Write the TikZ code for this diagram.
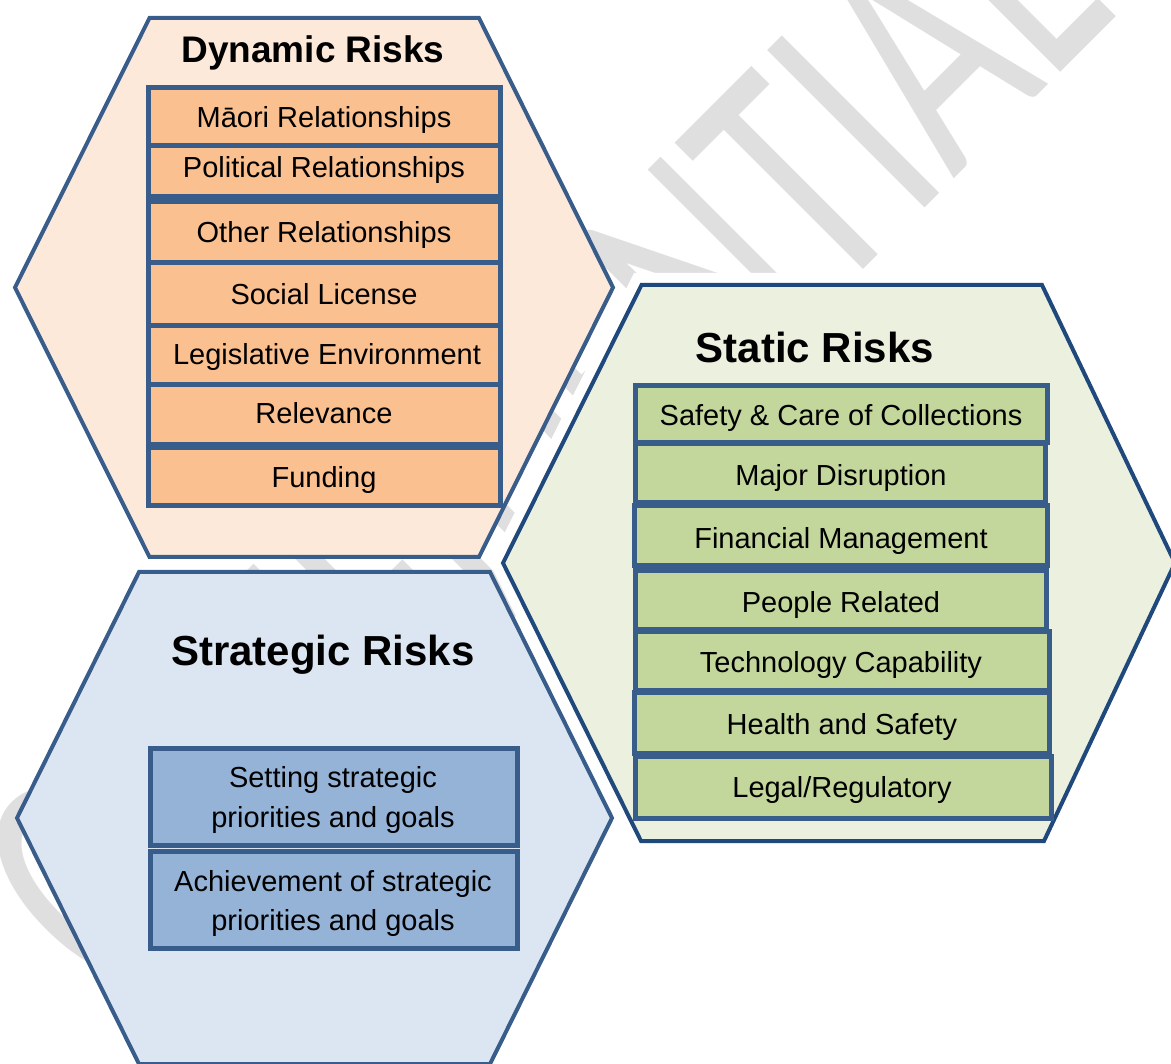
\documentclass[tikz,border=0pt]{standalone}
\usepackage{graphicx}
\usepackage{fontspec}
\setmainfont{Liberation Sans}
\newfontfamily\wmfont{Carlito}
\definecolor{hexline}{HTML}{385D8A}
\definecolor{hexlinegreen}{HTML}{1F497D}
\definecolor{boxline}{HTML}{385D8A}
\definecolor{dynfill}{HTML}{FDE9D9}
\definecolor{dynbox}{HTML}{FAC090}
\definecolor{statfill}{HTML}{EBF1DE}
\definecolor{statbox}{HTML}{C3D69B}
\definecolor{stratfill}{HTML}{DCE6F2}
\definecolor{stratbox}{HTML}{95B3D7}
\definecolor{wmgray}{RGB}{223,223,223}

\begin{document}
\begin{tikzpicture}[x=1pt,y=-1pt,
  hexagon/.style={line width=4pt, line join=miter},
  riskbox/.style={draw=boxline, line width=5pt},
  item/.style={anchor=base, inner sep=0pt, font=\fontsize{29}{29}\selectfont},
  title/.style={anchor=base, inner sep=0pt, font=\bfseries\fontsize{42}{42}\selectfont},
]
\useasboundingbox (0,0) rectangle (1171,1064);
\clip (0,0) rectangle (1171,1064);

% watermark behind everything
\node[text=wmgray, anchor=base, inner sep=0pt, rotate=45,
      font=\wmfont\fontsize{347}{347}\selectfont] (wm) at (619.3,513.7)
      {\scalebox{0.675}[1]{CONFIDENTIAL}};

% Dynamic Risks hexagon
\path[hexagon, fill=dynfill, draw=hexline]
  (149.5,18) -- (479,18) -- (613,287.5) -- (479,557) -- (149.5,557) -- (15,287.5) -- cycle;

% Strategic Risks hexagon
\path[hexagon, fill=stratfill, draw=hexline]
  (139,572) -- (490,572) -- (612,818) -- (490,1064) -- (139,1064) -- (17,818) -- cycle;

% Static Risks hexagon with white halo
\path[draw=white, line width=24pt, line join=miter]
  (641.5,285) -- (1042,285) -- (1175,563) -- (1044,841) -- (641,841) -- (503,563) -- cycle;
\path[hexagon, fill=statfill, draw=hexlinegreen]
  (641.5,285) -- (1042,285) -- (1175,563) -- (1044,841) -- (641,841) -- (503,563) -- cycle;

% Dynamic risk boxes
\path[riskbox, fill=dynbox] (148,88) rectangle (500,145.5);
\path[riskbox, fill=dynbox] (148,145.5) rectangle (500,197);
\path[riskbox, fill=dynbox] (148,201.5) rectangle (500,263);
\path[riskbox, fill=dynbox] (148,263) rectangle (500,325.5);
\path[riskbox, fill=dynbox] (148,325.5) rectangle (500,385);
\path[riskbox, fill=dynbox] (148,385) rectangle (500,444.5);
\path[riskbox, fill=dynbox] (148,447.5) rectangle (500,506);

% Static risk boxes
\path[riskbox, fill=statbox] (635.5,386) rectangle (1047,443);
\path[riskbox, fill=statbox] (635.5,444) rectangle (1045,502.5);
\path[riskbox, fill=statbox] (634,505.5) rectangle (1047,566);
\path[riskbox, fill=statbox] (635.5,570.5) rectangle (1046.5,629);
\path[riskbox, fill=statbox] (635.5,631.5) rectangle (1049,690);
\path[riskbox, fill=statbox] (634,692.5) rectangle (1049,753);
\path[riskbox, fill=statbox] (635.5,756.5) rectangle (1051,818.5);

% Strategic risk boxes
\path[riskbox, fill=stratbox] (150,748.5) rectangle (517,845.5);
\path[riskbox, fill=stratbox] (150,851) rectangle (517,948.5);

% Titles
\node[title, font=\bfseries\fontsize{37}{37}\selectfont] (dyntitle) at (313,62.5) {Dynamic Risks};
\node[title] (stattitle) at (815,363) {Static Risks};
\node[title] (strattitle) at (323,665) {Strategic Risks};

% Dynamic risk labels
\node[item] (d1) at (324,127.4) {Māori Relationships};
\node[item] (d2) at (324,177.4) {Political Relationships};
\node[item] (d3) at (324,242.9) {Other Relationships};
\node[item] (d4) at (324,304.4) {Social License};
\node[item] (d5) at (327,364.9) {Legislative Environment};
\node[item] (d6) at (324,423.4) {Relevance};
\node[item] (d7) at (324,487.4) {Funding};

% Static risk labels
\node[item] (s1) at (841,426) {Safety \& Care of Collections};
\node[item] (s2) at (841,486) {Major Disruption};
\node[item] (s3) at (841,548.4) {Financial Management};
\node[item] (s4) at (841,612.4) {People Related};
\node[item] (s5) at (841,672.4) {Technology Capability};
\node[item] (s6) at (842,734.4) {Health and Safety};
\node[item] (s7) at (842,797.4) {Legal/Regulatory};

% Strategic risk labels
\node[item] (t1a) at (333,787) {Setting strategic};
\node[item] (t1b) at (333,827) {priorities and goals};
\node[item] (t2a) at (333,891) {Achievement of strategic};
\node[item] (t2b) at (333,930) {priorities and goals};
\end{tikzpicture}
\end{document}
